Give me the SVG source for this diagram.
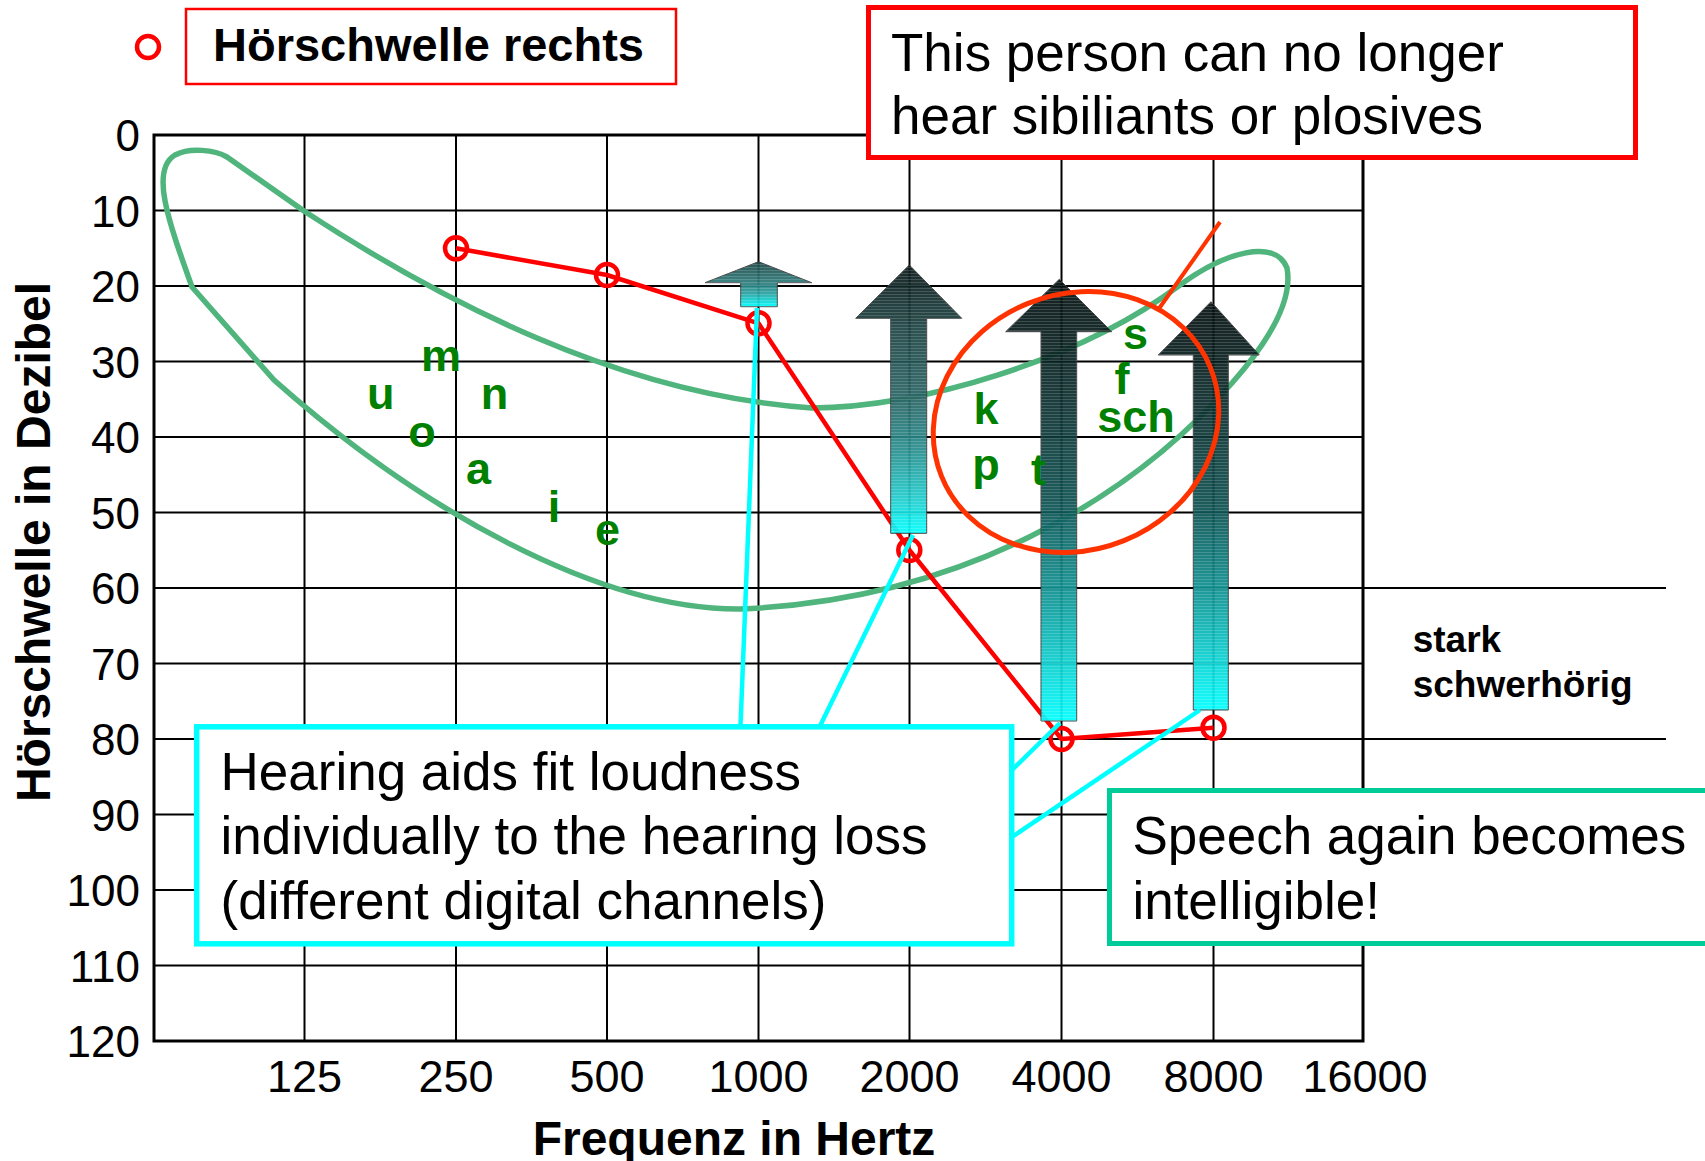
<svg xmlns="http://www.w3.org/2000/svg" width="1705" height="1161" viewBox="0 0 1705 1161">
  <style>
    .grid { stroke: #000; stroke-width: 2; fill: none; }
    .axis { stroke: #000; stroke-width: 3; fill: none; }
    .tick { font-family: "Liberation Sans", Arial, sans-serif; font-size: 44px; fill: #000; }
    .xt { font-family: "Liberation Sans", Arial, sans-serif; font-size: 45px; fill: #000; text-anchor: middle; }
    .title { font-family: "Liberation Sans", Arial, sans-serif; font-weight: bold; font-size: 48px; fill: #000; }
    .box { font-family: "Liberation Sans", Arial, sans-serif; font-size: 53px; fill: #000; }
    .ph { font-family: "Liberation Sans", Arial, sans-serif; font-weight: bold; font-size: 45px; fill: #008000; text-anchor: middle; }
    .pt { fill: none; stroke: #ff0000; stroke-width: 4.5; }
    .lead { stroke: #00ffff; stroke-width: 4.5; fill: none; }
    .arrow { stroke: #3a3a3a; stroke-width: 1; }
  </style>
  <defs>
    <linearGradient id="g1" x1="0" y1="0" x2="0" y2="1">
      <stop offset="0" stop-color="#1b4444"/>
      <stop offset="0.45" stop-color="#2f7a7a"/>
      <stop offset="0.7" stop-color="#2aa0a0"/>
      <stop offset="1" stop-color="#00ffff"/>
    </linearGradient>
    <linearGradient id="g2" x1="0" y1="0" x2="0" y2="1">
      <stop offset="0" stop-color="#0a1818"/>
      <stop offset="0.24" stop-color="#1e4444"/>
      <stop offset="0.5" stop-color="#2a6565"/>
      <stop offset="0.69" stop-color="#2a8f8f"/>
      <stop offset="0.88" stop-color="#20d0d0"/>
      <stop offset="1" stop-color="#00ffff"/>
    </linearGradient>
    <linearGradient id="g3" x1="0" y1="0" x2="0" y2="1">
      <stop offset="0" stop-color="#050f0f"/>
      <stop offset="0.25" stop-color="#0c2c2c"/>
      <stop offset="0.5" stop-color="#0e5050"/>
      <stop offset="0.73" stop-color="#109a9a"/>
      <stop offset="0.88" stop-color="#0cd4d4"/>
      <stop offset="1" stop-color="#00ffff"/>
    </linearGradient>
    <pattern id="bands" width="4" height="3" patternUnits="userSpaceOnUse">
      <rect x="0" y="0" width="4" height="1" fill="#ffffff" fill-opacity="0.16"/>
    </pattern>
  </defs>

  <rect width="1705" height="1161" fill="#ffffff"/>

  <!-- audiogram grid -->
  <g id="grid">
    <g class="grid">
      <line x1="304.5" y1="135" x2="304.5" y2="1041"/>
      <line x1="456" y1="135" x2="456" y2="1041"/>
      <line x1="607" y1="135" x2="607" y2="1041"/>
      <line x1="758.5" y1="135" x2="758.5" y2="1041"/>
      <line x1="909.5" y1="135" x2="909.5" y2="1041"/>
      <line x1="1061.5" y1="135" x2="1061.5" y2="1041"/>
      <line x1="1213.5" y1="135" x2="1213.5" y2="1041"/>
      <line x1="154" y1="210.5" x2="1363" y2="210.5"/>
      <line x1="154" y1="286" x2="1363" y2="286"/>
      <line x1="154" y1="361.5" x2="1363" y2="361.5"/>
      <line x1="154" y1="437" x2="1363" y2="437"/>
      <line x1="154" y1="512.5" x2="1363" y2="512.5"/>
      <line x1="154" y1="588" x2="1666" y2="588"/>
      <line x1="154" y1="663.5" x2="1363" y2="663.5"/>
      <line x1="154" y1="739" x2="1666" y2="739"/>
      <line x1="154" y1="814.5" x2="1363" y2="814.5"/>
      <line x1="154" y1="890" x2="1363" y2="890"/>
      <line x1="154" y1="965.5" x2="1363" y2="965.5"/>
    </g>
    <rect class="axis" x="154" y="135" width="1209" height="906"/>
  </g>

  <!-- axis labels -->
  <g id="y-ticks" class="tick" text-anchor="end">
    <text x="140" y="151">0</text>
    <text x="140" y="226.5">10</text>
    <text x="140" y="302">20</text>
    <text x="140" y="377.5">30</text>
    <text x="140" y="453">40</text>
    <text x="140" y="528.5">50</text>
    <text x="140" y="604">60</text>
    <text x="140" y="679.5">70</text>
    <text x="140" y="755">80</text>
    <text x="140" y="830.5">90</text>
    <text x="140" y="906">100</text>
    <text x="140" y="981.5">110</text>
    <text x="140" y="1057">120</text>
  </g>
  <g id="x-ticks" class="xt">
    <text x="304.5" y="1092">125</text>
    <text x="456" y="1092">250</text>
    <text x="607" y="1092">500</text>
    <text x="758.5" y="1092">1000</text>
    <text x="909.5" y="1092">2000</text>
    <text x="1061.5" y="1092">4000</text>
    <text x="1213.5" y="1092">8000</text>
    <text x="1365" y="1092">16000</text>
  </g>
  <text id="x-title" class="title" x="734" y="1155" text-anchor="middle">Frequenz in Hertz</text>
  <text id="y-title" class="title" font-size="47" text-anchor="middle" transform="translate(50,542) rotate(-90)">Hörschwelle in Dezibel</text>

  <!-- speech banana -->
  <path id="speech-area" d="M 227,157 L 304,211 C 440,300 620,395 812,408 C 920,408 1080,360 1180,285 C 1225,252 1275,238 1287,268 C 1293,300 1270,340 1232,383 C 1130,500 960,600 740,609 C 600,610 420,510 274,380 L 192,287 C 168,220 150,170 175,155 C 190,147 215,150 227,157 Z" fill="none" stroke="#50b47d" stroke-width="5.5" stroke-linejoin="round"/>

  <!-- hearing threshold (right ear) -->
  <g id="threshold">
    <polyline points="456,248.3 607,275 758.5,323.3 909.3,550 1061.5,739 1213.5,727.7" fill="none" stroke="#ff0000" stroke-width="4.5" stroke-linejoin="round"/>
  </g>

  <!-- amplification arrows per channel -->
  <g id="arrow-1000" opacity="0.93">
    <path class="arrow" fill="url(#g1)" d="M 758.5,261.7 L 811.7,282.7 L 777.3,282.7 L 777.3,306.7 L 740.7,306.7 L 740.7,282.7 L 705,282.7 Z"/>
    <path fill="url(#bands)" d="M 758.5,261.7 L 811.7,282.7 L 777.3,282.7 L 777.3,306.7 L 740.7,306.7 L 740.7,282.7 L 705,282.7 Z"/>
  </g>
  <g id="arrow-2000" opacity="0.93">
    <path class="arrow" fill="url(#g2)" d="M 909.3,265 L 961.7,318.3 L 926.7,318.3 L 926.7,533.3 L 890.7,533.3 L 890.7,318.3 L 855.7,318.3 Z"/>
    <path fill="url(#bands)" d="M 909.3,265 L 961.7,318.3 L 926.7,318.3 L 926.7,533.3 L 890.7,533.3 L 890.7,318.3 L 855.7,318.3 Z"/>
  </g>
  <g id="arrow-4000" opacity="0.93">
    <path class="arrow" fill="url(#g3)" d="M 1059.3,279.3 L 1111.7,331.7 L 1076.7,331.7 L 1076.7,721 L 1041,721 L 1041,331.7 L 1005.7,331.7 Z"/>
    <path fill="url(#bands)" d="M 1059.3,279.3 L 1111.7,331.7 L 1076.7,331.7 L 1076.7,721 L 1041,721 L 1041,331.7 L 1005.7,331.7 Z"/>
  </g>
  <g id="arrow-8000" opacity="0.93">
    <path class="arrow" fill="url(#g3)" d="M 1211,301.7 L 1259.3,355 L 1228.3,355 L 1228.3,710 L 1193.3,710 L 1193.3,355 L 1158.3,355 Z"/>
    <path fill="url(#bands)" d="M 1211,301.7 L 1259.3,355 L 1228.3,355 L 1228.3,710 L 1193.3,710 L 1193.3,355 L 1158.3,355 Z"/>
  </g>

  <!-- threshold markers -->
  <g id="threshold-points" class="pt">
    <circle cx="456" cy="248.3" r="11"/>
    <circle cx="607" cy="275" r="11"/>
    <circle cx="758.5" cy="323.3" r="11"/>
    <circle cx="909.3" cy="550" r="11"/>
    <circle cx="1061.5" cy="739" r="11"/>
    <circle cx="1213.5" cy="727.7" r="11"/>
  </g>

  <!-- lost consonants highlight -->
  <g id="highlight">
    <ellipse cx="1076" cy="422" rx="145" ry="128" transform="rotate(-22 1076 422)" fill="none" stroke="#ff3300" stroke-width="5"/>
    <line x1="1158" y1="310" x2="1220" y2="222" stroke="#ff3300" stroke-width="4"/>
  </g>

  <!-- connectors -->
  <g id="connectors" class="lead">
    <line x1="757" y1="308" x2="740.5" y2="726"/>
    <line x1="820" y1="726" x2="913" y2="535"/>
    <line x1="1012" y1="770" x2="1060" y2="723"/>
    <line x1="1012" y1="837" x2="1200" y2="710"/>
  </g>

  <!-- phonemes -->
  <g id="phonemes" class="ph">
    <text x="441" y="370.7">m</text>
    <text x="380.7" y="409.3">u</text>
    <text x="494.5" y="409.3">n</text>
    <text x="422" y="446.7">o</text>
    <text x="478.5" y="484">a</text>
    <text x="554" y="521.7">i</text>
    <text x="607.5" y="545">e</text>
    <text x="986" y="424">k</text>
    <text x="986" y="480">p</text>
    <text x="1038.5" y="485">t</text>
    <text x="1135.5" y="349.3">s</text>
    <text x="1122" y="394">f</text>
    <text x="1136" y="431.7">sch</text>
  </g>

  <g id="degree-label" font-family="'Liberation Sans', Arial, sans-serif" font-weight="bold" font-size="37" fill="#000">
    <text x="1412.7" y="651.7">stark</text>
    <text x="1412.7" y="696.7">schwerhörig</text>
  </g>

  <!-- legend -->
  <g id="legend">
    <circle cx="148" cy="47" r="11" class="pt"/>
    <rect x="186" y="9" width="490" height="75" fill="#ffffff" stroke="#ff0000" stroke-width="2.5"/>
    <text x="213" y="61" font-family="'Liberation Sans', Arial, sans-serif" font-weight="bold" font-size="47" fill="#000">Hörschwelle rechts</text>
  </g>

  <!-- callouts -->
  <g id="note-loss">
    <rect x="868.5" y="7.5" width="767" height="150" fill="#ffffff" stroke="#ff0000" stroke-width="5"/>
    <text class="box" x="891" y="70.7">This person can no longer</text>
    <text class="box" x="891" y="134">hear sibiliants or plosives</text>
  </g>
  <g id="note-aids">
    <rect x="196.7" y="726.8" width="815" height="217" fill="#ffffff" stroke="#00ffff" stroke-width="5.5"/>
    <text class="box" x="220.5" y="790">Hearing aids fit loudness</text>
    <text class="box" x="220.5" y="854.3">individually to the hearing loss</text>
    <text class="box" x="220.5" y="919">(different digital channels)</text>
  </g>
  <g id="note-speech">
    <rect x="1109.5" y="790.5" width="700" height="153" fill="#ffffff" stroke="#00cc99" stroke-width="5"/>
    <text class="box" x="1132.4" y="854.3">Speech again becomes</text>
    <text class="box" x="1132.4" y="919">intelligible!</text>
  </g>
</svg>
